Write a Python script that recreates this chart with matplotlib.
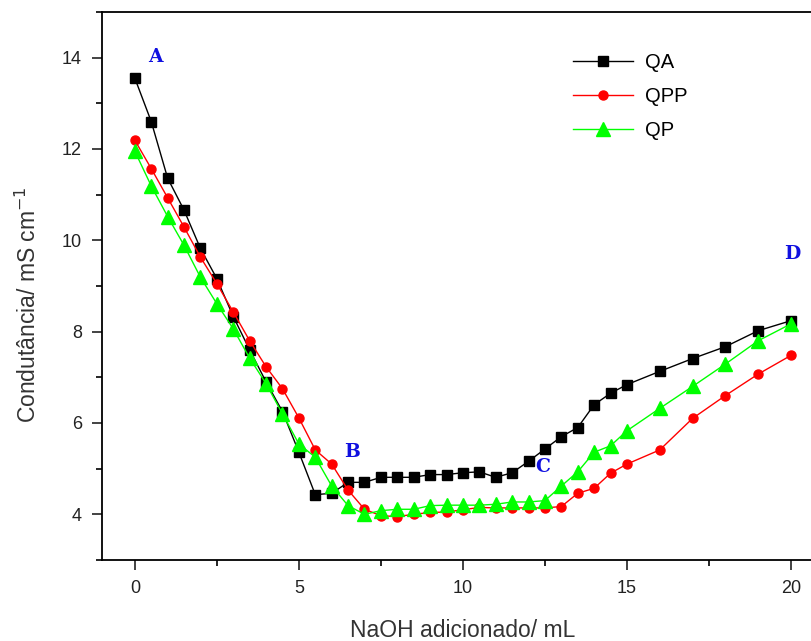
import matplotlib
matplotlib.use('Agg')
import matplotlib.pyplot as plt
from matplotlib.ticker import MultipleLocator

plt.rcParams['font.family'] = ['Liberation Sans', 'DejaVu Sans']

# NaOH volumes (mL)
vol = [0, 0.5, 1, 1.5, 2, 2.5, 3, 3.5, 4, 4.5, 5, 5.5, 6, 6.5, 7, 7.5,
       8, 8.5, 9, 9.5, 10, 10.5, 11, 11.5, 12, 12.5, 13, 13.5, 14, 14.5,
       15, 16, 17, 18, 19, 20]

# conductance (mS/cm)
qa = [13.55, 12.6, 11.36, 10.66, 9.82, 9.16, 8.33, 7.6, 6.9, 6.25,
      5.36, 4.43, 4.46, 4.70, 4.70, 4.81, 4.81, 4.81, 4.87, 4.87,
      4.91, 4.93, 4.81, 4.91, 5.16, 5.43, 5.70, 5.90, 6.40, 6.65,
      6.84, 7.13, 7.41, 7.67, 8.02, 8.24]
qpp = [12.19, 11.57, 10.93, 10.29, 9.63, 9.05, 8.43, 7.80, 7.23, 6.75,
       6.11, 5.41, 5.10, 4.53, 4.11, 3.97, 3.95, 4.0, 4.04, 4.05,
       4.10, 4.15, 4.14, 4.14, 4.14, 4.14, 4.17, 4.46, 4.57, 4.90,
       5.10, 5.41, 6.10, 6.60, 7.07, 7.48]
qp = [11.95, 11.19, 10.52, 9.89, 9.19, 8.61, 8.06, 7.42, 6.86, 6.20,
      5.54, 5.25, 4.62, 4.19, 4.0, 4.08, 4.11, 4.11, 4.19, 4.20,
      4.20, 4.20, 4.22, 4.27, 4.27, 4.30, 4.62, 4.93, 5.36, 5.50,
      5.83, 6.32, 6.80, 7.29, 7.80, 8.17]

# titration points
pt_labels = ['A', 'B', 'C', 'D']
pt_x = [0.62, 6.62, 12.42, 20.05]
pt_y = [14.02, 5.37, 5.04, 9.7]

fig = plt.figure(figsize=(8.11, 6.41), dpi=100)
ax = fig.add_axes([0.1258, 0.1264, 0.890, 0.855])

ax.plot(vol, qa, '-', color='black', lw=1, marker='s', ms=7, label='QA')
ax.plot(vol, qpp, '-', color='red', lw=1, marker='o', ms=6.5, label='QPP')
ax.plot(vol, qp, '-', color='#00ff00', lw=1, marker='^', ms=9.5, label='QP')

for t, x, y in zip(pt_labels, pt_x, pt_y):
    ax.text(x, y, t, color='#1010e0', fontsize=13.5, fontweight='bold',
            ha='center', va='center', family=['DejaVu Serif'])

ax.set_xlim(-1, 21)
ax.set_ylim(3, 15)
ax.xaxis.set_major_locator(MultipleLocator(5))
ax.xaxis.set_minor_locator(MultipleLocator(2.5))
ax.yaxis.set_major_locator(MultipleLocator(2))
ax.yaxis.set_minor_locator(MultipleLocator(1))
ax.tick_params(which='major', direction='out', length=7.5, width=1.2,
               labelsize=13, pad=7, colors='#222222')
ax.tick_params(which='minor', direction='out', length=4, width=1.2)
for lab in ax.get_xticklabels() + ax.get_yticklabels():
    lab.set_family(['Liberation Sans Narrow', 'Liberation Sans'])
for s in ax.spines.values():
    s.set_linewidth(1.3)

ax.set_xlabel('NaOH adicionado/ mL', fontsize=16.5, color='#333333', labelpad=16)
ax.set_ylabel('Condutância/ mS cm$^{-1}$', fontsize=16.5, color='#333333')
ax.yaxis.set_label_coords(-0.085, 0.465)

ax.legend(loc='upper left', bbox_to_anchor=(0.627, 0.958), frameon=False,
          fontsize=14.5, handlelength=3.0, labelspacing=0.75, handletextpad=0.6)

fig.savefig('out.png', dpi=100)
